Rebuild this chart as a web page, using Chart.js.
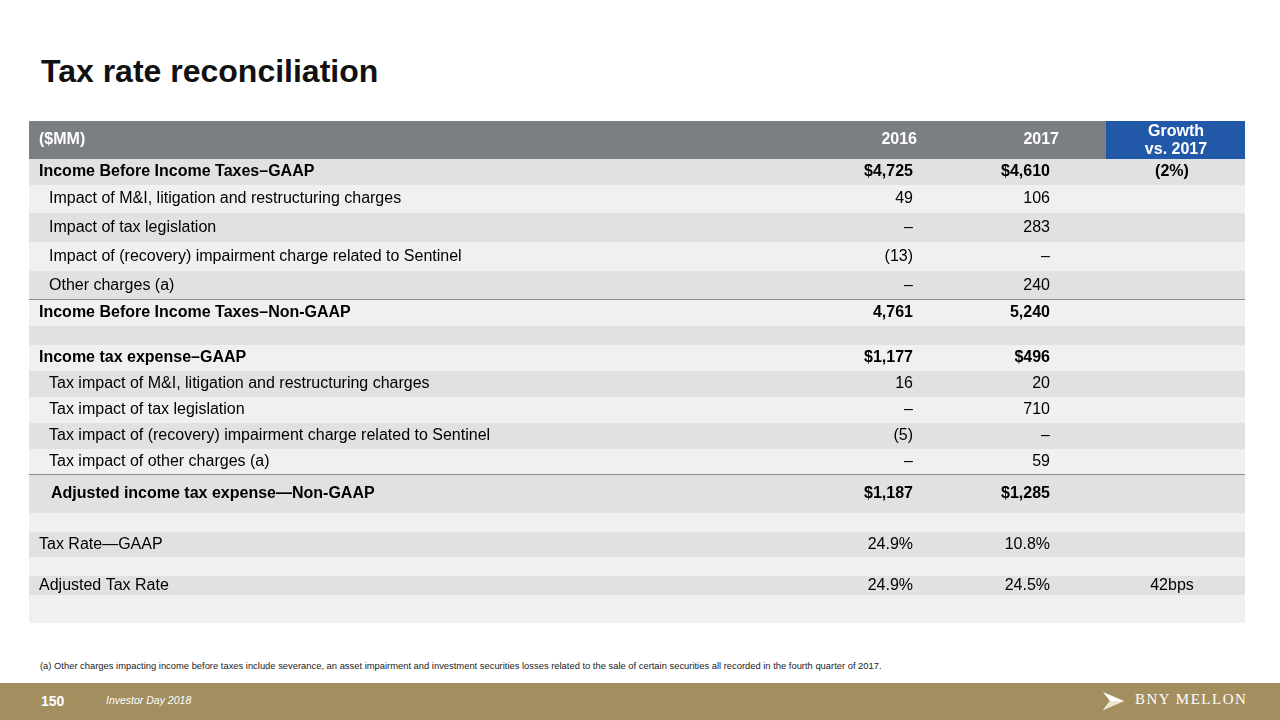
<!DOCTYPE html>
<html>
<head>
<meta charset="utf-8">
<script src="https://cdn.jsdelivr.net/npm/chart.js@4.4.0/dist/chart.umd.min.js"></script>
<style>
  body { margin: 0; width: 1280px; height: 720px; background: #fff; position: relative; overflow: hidden; font-family: "Liberation Sans", Arial, sans-serif; }
  #titulo { position: absolute; left: 41px; top: 53px; font-size: 32px; font-weight: bold; color: #111; }
  #tabla { position: absolute; left: 29px; top: 121px; width: 1216px; height: 502px; }
  #nota { position: absolute; left: 40px; top: 660px; font-size: 9.4px; color: #222; white-space: nowrap; }
  #pie { position: absolute; left: 0; top: 683px; width: 1280px; height: 37px; background: #a28e5e; }
  #pagina { position: absolute; left: 41px; top: 10px; font-size: 14px; font-weight: bold; color: #fff; }
  #evento { position: absolute; left: 106px; top: 11px; font-size: 10.5px; font-style: italic; color: #fff; }
  #logo { position: absolute; left: 1103px; top: 8px; color: #fff; font-family: "Liberation Serif", "DejaVu Serif", serif; font-size: 15px; letter-spacing: 1.5px; }
  #logo svg { position: absolute; left: 0; top: 1px; }
  #logo span { position: absolute; left: 32px; top: 0; white-space: nowrap; }
</style>
</head>
<body>
<div id="titulo">Tax rate reconciliation</div>
<div id="tabla"><canvas id="graficoTabla"></canvas></div>
<div id="nota">(a) Other charges impacting income before taxes include severance, an asset impairment and investment securities losses related to the sale of certain securities all recorded in the fourth quarter of 2017.</div>
<div id="pie">
  <div id="pagina">150</div>
  <div id="evento">Investor Day 2018</div>
  <div id="logo">
    <svg width="21" height="18" viewBox="0 0 21 18"><polygon points="0,0 21,9 0,18 7,9" fill="#fff"/><polygon points="7,9 21,9 0,18" fill="#ece5d2"/></svg>
    <span>BNY MELLON</span>
  </div>
</div>
<script>
// datos de la tabla
const encabezados = ['($MM)', '2016', '2017', 'Growth\nvs. 2017'];
const conceptos = [
    'Income Before Income Taxes–GAAP',
    'Impact of M&I, litigation and restructuring charges',
    'Impact of tax legislation',
    'Impact of (recovery) impairment charge related to Sentinel',
    'Other charges (a)',
    'Income Before Income Taxes–Non-GAAP',
    '',
    'Income tax expense–GAAP',
    'Tax impact of M&I, litigation and restructuring charges',
    'Tax impact of tax legislation',
    'Tax impact of (recovery) impairment charge related to Sentinel',
    'Tax impact of other charges (a)',
    'Adjusted income tax expense—Non-GAAP',
    '',
    'Tax Rate—GAAP',
    '',
    'Adjusted Tax Rate',
    ''
];
const valores2016 = ['$4,725', '49', '–', '(13)', '–', '4,761', '', '$1,177', '16', '–', '(5)', '–', '$1,187', '', '24.9%', '', '24.9%', ''];
const valores2017 = ['$4,610', '106', '283', '–', '240', '5,240', '', '$496', '20', '710', '–', '59', '$1,285', '', '10.8%', '', '24.5%', ''];
const crecimiento = ['(2%)', '', '', '', '', '', '', '', '', '', '', '', '', '', '', '', '42bps', ''];

// diseño (alturas de fila, estilos)
const altoEncabezado = 38;
const altosFila = [26, 28, 29, 29, 29, 26, 19, 26, 26, 26, 26, 26, 38, 19, 25, 19, 19, 28];
const negrita = [true, false, false, false, false, true, false, true, false, false, false, false, true, false, false, false, false, false];
const sangria = [10, 20, 20, 20, 20, 10, 10, 10, 20, 20, 20, 20, 22, 10, 10, 10, 10, 10];
const lineaDebajo = [4, 11];
const anchoTabla = 1216;
const colDerecha2016 = 884;
const colDerecha2017 = 1021;
const colCentroCrec = 1143;
const inicioCrec = 1077;

const pluginTabla = {
    id: 'pluginTabla',
    beforeDatasetsDraw(chart) {
        const ctx = chart.ctx;
        const sx = chart.scales.x;
        const sy = chart.scales.y;
        const px = v => sx.getPixelForValue(v);
        const py = v => sy.getPixelForValue(v);
        ctx.save();

        // encabezado
        ctx.fillStyle = '#7b7e83';
        ctx.fillRect(px(0), py(0), px(anchoTabla) - px(0), py(altoEncabezado) - py(0));
        ctx.fillStyle = '#2258a8';
        ctx.fillRect(px(inicioCrec), py(0), px(anchoTabla) - px(inicioCrec), py(altoEncabezado) - py(0));
        ctx.fillStyle = '#ffffff';
        ctx.font = 'bold 16px "Liberation Sans", Arial, sans-serif';
        ctx.textBaseline = 'middle';
        let yc = py(altoEncabezado / 2);
        ctx.textAlign = 'left';
        ctx.fillText(encabezados[0], px(10), yc);
        ctx.textAlign = 'right';
        ctx.fillText(encabezados[1], px(colDerecha2016 + 4), yc);
        ctx.fillText(encabezados[2], px(colDerecha2017 + 9), yc);
        ctx.textAlign = 'center';
        const lineas = encabezados[3].split('\n');
        ctx.fillText(lineas[0], px(colCentroCrec + 4), py(altoEncabezado / 2 - 8));
        ctx.fillText(lineas[1], px(colCentroCrec + 4), py(altoEncabezado / 2 + 10));

        // filas
        let arriba = altoEncabezado;
        conceptos.forEach((concepto, i) => {
            const abajo = arriba + altosFila[i];
            ctx.fillStyle = i % 2 === 0 ? '#e1e1e3' : '#f0f0f0';
            ctx.fillRect(px(0), py(arriba), px(anchoTabla) - px(0), py(abajo) - py(arriba));
            const yMedio = py((arriba + abajo) / 2);
            ctx.fillStyle = '#000000';
            ctx.font = (negrita[i] ? 'bold ' : '') + '16px "Liberation Sans", Arial, sans-serif';
            ctx.textAlign = 'left';
            ctx.fillText(concepto, px(sangria[i]), yMedio);
            ctx.textAlign = 'right';
            ctx.fillText(valores2016[i], px(colDerecha2016), yMedio);
            ctx.fillText(valores2017[i], px(colDerecha2017), yMedio);
            ctx.textAlign = 'center';
            ctx.fillText(crecimiento[i], px(colCentroCrec), yMedio);
            if (lineaDebajo.includes(i)) {
                ctx.strokeStyle = '#8a8a8c';
                ctx.lineWidth = 2;
                ctx.beginPath();
                ctx.moveTo(px(0), py(abajo));
                ctx.lineTo(px(anchoTabla), py(abajo));
                ctx.stroke();
            }
            arriba = abajo;
        });
        ctx.restore();
    }
};

const totalAlto = altoEncabezado + altosFila.reduce((a, b) => a + b, 0);

new Chart(document.getElementById('graficoTabla').getContext('2d'), {
    type: 'scatter',
    data: { datasets: [{ data: [], pointRadius: 0 }] },
    options: {
        responsive: true,
        maintainAspectRatio: false,
        animation: false,
        layout: { padding: 0 },
        plugins: { legend: { display: false }, tooltip: { enabled: false } },
        scales: {
            x: { type: 'linear', min: 0, max: anchoTabla, display: false },
            y: { type: 'linear', min: 0, max: totalAlto, reverse: true, display: false }
        }
    },
    plugins: [pluginTabla]
});
</script>
</body>
</html>
